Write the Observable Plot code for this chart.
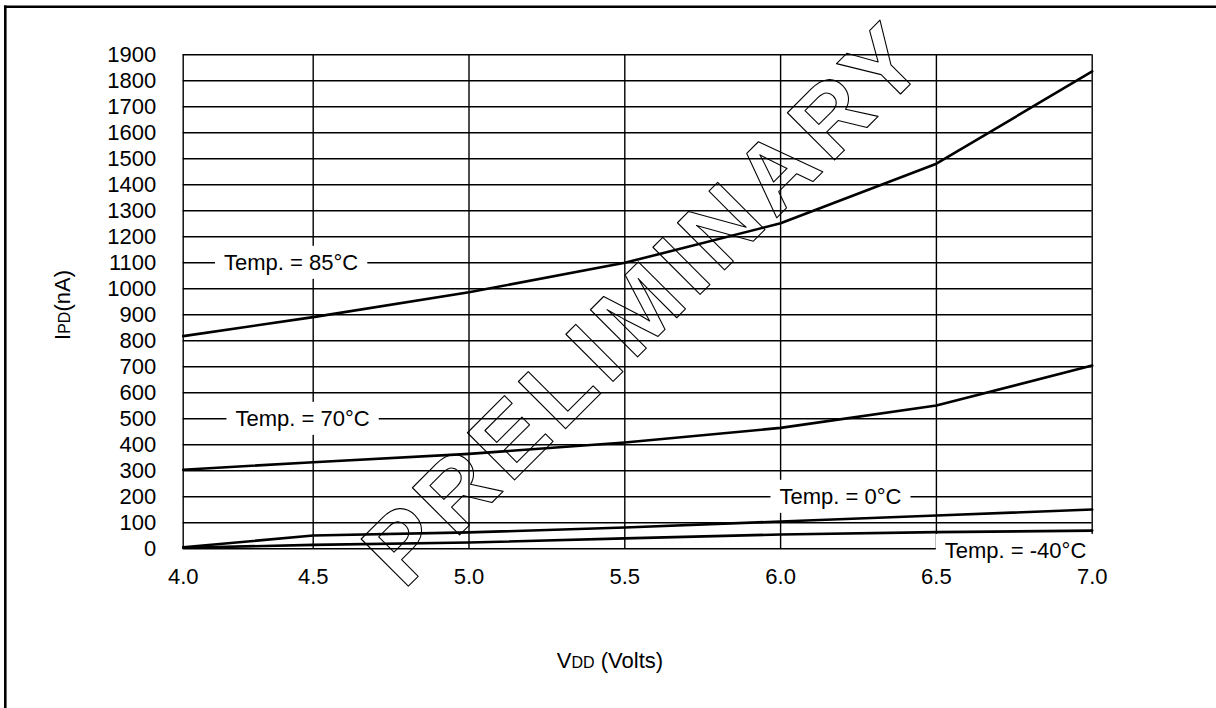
<!DOCTYPE html>
<html><head><meta charset="utf-8">
<script src="https://cdn.jsdelivr.net/npm/d3@7"></script>
<script src="https://cdn.jsdelivr.net/npm/@observablehq/plot@0.6"></script>
<style>
html,body{margin:0;padding:0;background:#fff;}
#chart{position:relative;width:1216px;height:708px;overflow:hidden;background:#fff;}
svg{display:block;}
</style></head><body><div id="chart"></div>
<script>
// ---- data ----
const vdd = [4.0, 4.5, 5.0, 5.5, 6.0, 6.5, 7.0];
const ipd85 = [818, 891, 987, 1100, 1252, 1481, 1836];
const ipd70 = [304, 333, 365, 409, 465, 551, 705];
const ipd0 = [6, 51, 63, 82, 105, 128, 151];
const ipdM40 = [4, 15, 24, 40, 55, 64, 70];
const seriesNames = ["85°C", "70°C", "0°C", "-40°C"];
const xTicks = [4.0, 4.5, 5.0, 5.5, 6.0, 6.5, 7.0];
const yTicks = [0, 100, 200, 300, 400, 500, 600, 700, 800, 900, 1000, 1100, 1200, 1300, 1400, 1500, 1600, 1700, 1800, 1900];
const labelTexts = ["Temp. = 85°C", "Temp. = 70°C", "Temp. = 0°C", "Temp. = -40°C"];
const labelVdd = [4.415, 4.459, 6.192, 6.754];
const labelIpd = [1100, 500, 200, -8];
const watermark = ["PRELIMINARY"];

// ---- tables ----
const seriesValues = [ipd85, ipd70, ipd0, ipdM40];
const rows = seriesNames.flatMap((s, i) => vdd.map((v, j) => ({series: s, vdd: v, ipd: seriesValues[i][j]})));
const labels = labelTexts.map((t, i) => ({text: t, x: labelVdd[i], y: labelIpd[i]}));

const W = 1216, H = 708;
const L = 182.7, R = 1091.7, T = 54.3, B = 548.3;
const font = "'Liberation Sans', Arial, Helvetica, sans-serif";

const chart = Plot.plot({
  width: W, height: H,
  marginLeft: L, marginRight: W - R, marginTop: T, marginBottom: H - B,
  style: {fontFamily: font, fontSize: "22px", color: "#000", background: "transparent", overflow: "visible"},
  x: {type: "linear", domain: [4, 4.5, 7], range: [L, L + 130, R]},
  y: {domain: [0, 1900], range: [B, T]},
  marks: [
    Plot.ruleY(yTicks, {stroke: "#000", strokeWidth: 1.4}),
    Plot.ruleX(xTicks, {stroke: "#000", strokeWidth: 1.4}),
    Plot.axisX({ticks: xTicks, tickSize: 0, tickPadding: 20, tickFormat: d3.format(".1f"), fontSize: 22, label: null}),
    Plot.axisY({ticks: yTicks, tickSize: 0, tickPadding: 27, tickFormat: d => String(d), fontSize: 22, label: null}),
    Plot.text(labels, {x: "x", y: "y", text: "text", fill: "#000", fontSize: 22, textAnchor: "middle"}),
    Plot.line(rows, {x: "vdd", y: "ipd", z: "series", stroke: "#000", strokeWidth: 2.6}),
    Plot.text(watermark, {text: d => d, frameAnchor: "middle", dx: 9, dy: 2, rotate: -45, fontSize: 97, fontWeight: "bold", fill: "none", stroke: "#000", strokeWidth: 1.1})
  ]
});

document.getElementById("chart").append(chart);
const svg = d3.select(chart);

// white boxes behind the temperature labels
const NS = "http://www.w3.org/2000/svg";
Array.from(chart.querySelectorAll("text")).forEach(function (el) {
  const s = el.textContent || "";
  if (s === "PRELIMINARY") { el.setAttribute("letter-spacing", "7.7"); el.style.letterSpacing = "7.7px"; return; }
  if (!labelTexts.includes(s)) return;
  const b = el.getBBox();
  const r = document.createElementNS(NS, "rect");
  r.setAttribute("x", b.x - 9);
  r.setAttribute("y", b.y - 4);
  r.setAttribute("width", b.width + 18);
  r.setAttribute("height", b.height + 8);
  r.setAttribute("fill", "#fff");
  r.setAttribute("stroke", "none");
  const tr = el.getAttribute("transform");
  if (tr) r.setAttribute("transform", tr);
  el.parentNode.insertBefore(r, el);
});

// axis titles with small-size subscripts
const xt = svg.append("text").attr("x", 610).attr("y", 668).attr("text-anchor", "middle")
  .attr("font-family", font).attr("font-size", 22).attr("fill", "#000");
xt.append("tspan").text("V");
xt.append("tspan").attr("font-size", 16).text("DD");
xt.append("tspan").text(" (Volts)");

const yt = svg.append("text").attr("transform", "translate(69.5,305) rotate(-90)").attr("text-anchor", "middle")
  .attr("font-family", font).attr("font-size", 22).attr("fill", "#000");
yt.append("tspan").text("I");
yt.append("tspan").attr("font-size", 16).text("PD");
yt.append("tspan").text("(nA)");

// page frame (top and left edges visible)
svg.append("line").attr("x1", 4).attr("x2", W).attr("y1", 6.8).attr("y2", 6.8).attr("stroke", "#000").attr("stroke-width", 2.6);
svg.append("line").attr("x1", 5.3).attr("x2", 5.3).attr("y1", 5.5).attr("y2", H).attr("stroke", "#000").attr("stroke-width", 2.6);
</script>
</body></html>
